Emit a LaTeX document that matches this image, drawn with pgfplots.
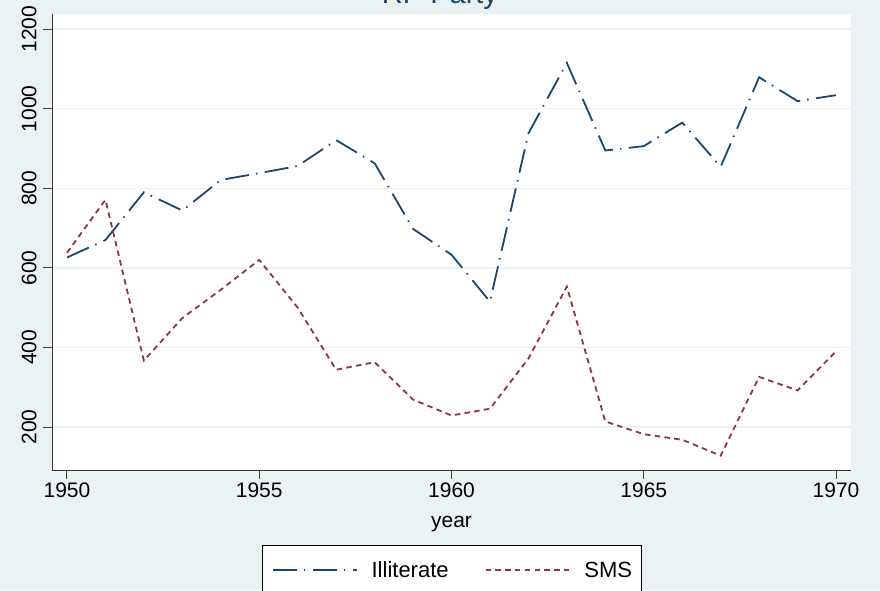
\documentclass[border=0pt]{standalone}
\usepackage{fontspec}
\setmainfont{Liberation Sans}
\usepackage{pgfplots}
\pgfplotsset{compat=1.18}
\definecolor{bgc}{HTML}{EAF2F3}
\definecolor{stnavy}{RGB}{26,71,111}
\definecolor{stmaroon}{RGB}{144,53,59}
\begin{document}
\begin{tikzpicture}[x=1pt,y=1pt]
\useasboundingbox (0,0) rectangle (880,590);
\clip (0,0) rectangle (880,590);
\fill[bgc] (0,0) rectangle (880,590);
\node[anchor=base, font=\fontsize{29}{34}\selectfont, text=stnavy] at (440,586) {RP Party};
\begin{axis}[
  at={(52pt,120pt)}, anchor=south west,
  scale only axis, width=799pt, height=456pt,
  xmin=1949.61, xmax=1970.39, ymin=92, ymax=1238,
  axis x line*=bottom, axis y line*=left,
  axis line style={-, black!80, line width=1pt},
  axis background/.style={fill=white},
  xtick={1950,1955,...,1970}, ytick={200,400,...,1200},
  ymajorgrids, major grid style={draw=bgc, line width=1.5pt},
  tick align=outside, major tick length=9pt,
  tick style={black!75, line width=1pt},
  /pgf/number format/assume math mode=true,
  /pgf/number format/1000 sep={},
  ticklabel style={font=\fontsize{21}{25}\selectfont},
  yticklabel style={xshift=-3pt, rotate=90, anchor=south},
  xlabel={year},
  xlabel style={font=\fontsize{21}{25}\selectfont, at={(axis description cs:0.5,-0.125)}, anchor=base},
  legend style={at={(0.5006,-0.1645)}, anchor=north, draw=black, line width=0.8pt, fill=white,
    font=\fontsize{22}{26}\selectfont, legend columns=2, inner xsep=9pt, inner ysep=16pt,
    nodes={inner sep=0pt},
    /tikz/every odd column/.append style={column sep=14pt},
    /tikz/every even column/.append style={column sep=36pt}},
  legend image code/.code={\draw[#1] (0pt,0pt) -- (84pt,0pt);},
]
\addplot[stnavy, line width=1.8pt, dash pattern=on 24pt off 7pt on 1.5pt off 7.5pt] coordinates {
(1950,626) (1951,670) (1952,790) (1953,744) (1954,821) (1955,838) (1956,856)
(1957,921) (1958,863) (1959,698) (1960,633) (1961,515) (1962,938) (1963,1115)
(1964,895) (1965,906) (1966,965) (1967,854) (1968,1079) (1969,1019) (1970,1034)};
\addlegendentry{Illiterate}
\addplot[stmaroon, line width=1.8pt, dash pattern=on 5.5pt off 4.3pt] coordinates {
(1950,638) (1951,771) (1952,367) (1953,474) (1954,545) (1955,620) (1956,500)
(1957,344) (1958,363) (1959,269) (1960,229) (1961,246) (1962,372) (1963,553)
(1964,214) (1965,182) (1966,168) (1967,128) (1968,326) (1969,292) (1970,390)};
\addlegendentry{SMS}
\end{axis}
\end{tikzpicture}
\end{document}
